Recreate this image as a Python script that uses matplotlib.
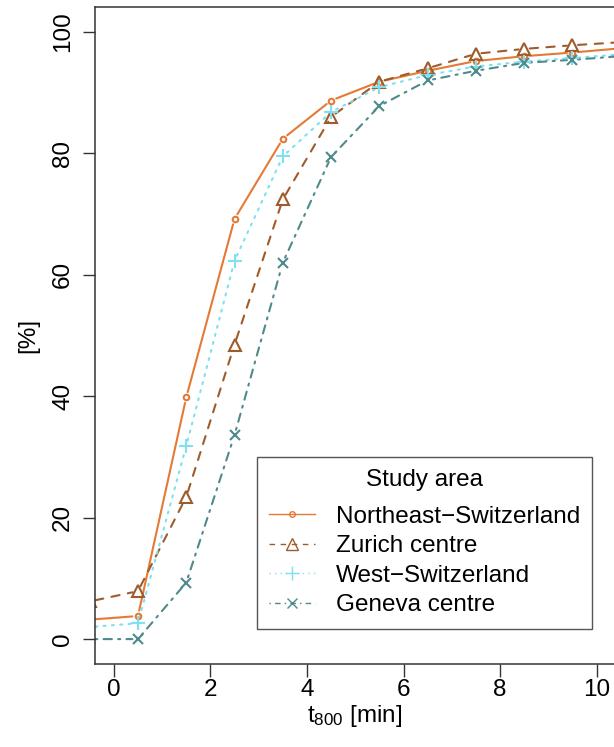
import matplotlib
matplotlib.use('Agg')
import matplotlib.pyplot as plt
from matplotlib.lines import Line2D
from matplotlib.patches import FancyArrowPatch

# t800 bins (bin centres, minutes) and share of population reached [%]
t800 = [-0.5, 0.5, 1.5, 2.5, 3.5, 4.5, 5.5, 6.5, 7.5, 8.5, 9.5, 10.5]
northeast = [3.2, 3.8, 39.8, 69.2, 82.4, 88.7, 91.8, 93.6, 95.2, 96.0, 96.6, 97.3]
zurich = [6.2, 7.9, 23.4, 48.5, 72.4, 86.0, 91.8, 94.0, 96.4, 97.2, 97.8, 98.3]
west = [2.0, 2.6, 31.8, 62.3, 79.5, 86.8, 90.9, 92.9, 94.3, 95.1, 95.7, 96.3]
geneva = [0.0, 0.0, 9.3, 33.6, 62.0, 79.4, 87.8, 92.0, 93.6, 94.9, 95.4, 96.0]

labels = ['Northeast\u2212Switzerland', 'Zurich centre', 'West\u2212Switzerland', 'Geneva centre']
series = [northeast, zurich, west, geneva]
colors = ['#E47A35', '#9E5C2C', '#7EE0F0', '#4F8A8C']
styles = ['-', (0, (4, 4)), (0, (1, 3)), (0, (1, 3, 4, 3))]
markers = ['o', '^', '+', 'x']
msizes = [4, 8, 10, 7]

plt.rcParams['font.family'] = ['Liberation Sans', 'DejaVu Sans']
plt.rcParams['mathtext.default'] = 'regular'
fs = 17.5

fig = plt.figure(figsize=(6.14, 7.47), dpi=100)
ax = fig.add_axes([95 / 614, 1 - 664 / 747, 1 - 95 / 614, (664 - 7) / 747])

for ys, c, ls, m, ms in zip(series, colors, styles, markers, msizes):
    # R type="b": segments with small gaps around the points
    for i in range(len(t800) - 1):
        seg = FancyArrowPatch((t800[i], ys[i]), (t800[i + 1], ys[i + 1]),
                              arrowstyle='-', shrinkA=4, shrinkB=4,
                              color=c, linestyle=ls, linewidth=1.5)
        ax.add_patch(seg)
    ax.plot(t800, ys, linestyle='none', marker=m, markersize=ms,
            markerfacecolor='none', markeredgecolor=c, markeredgewidth=1.5)

ax.set_xlim(-0.39, 10.36)
ax.set_ylim(-4.1, 104.1)
ax.set_xticks([0, 2, 4, 6, 8, 10])
ax.set_yticks([0, 20, 40, 60, 80, 100])
ax.tick_params(axis='both', labelsize=fs, length=9, width=1.0, color='#333333')
ax.tick_params(axis='x', pad=2)
ax.tick_params(axis='y', pad=6)
for lab in ax.get_yticklabels():
    lab.set_rotation(90)
    lab.set_va('center')
for s in ['left', 'bottom', 'top']:
    ax.spines[s].set_color('#333333')
    ax.spines[s].set_linewidth(1.1)
ax.spines['right'].set_visible(False)

ax.set_xlabel(r'$t_{800}$ [min]', fontsize=fs, labelpad=1)
ax.set_ylabel('[%]', fontsize=fs, labelpad=9)

handles = [Line2D([], [], color=c, linestyle=ls, linewidth=1.0, marker=m,
                  markersize=ms, markerfacecolor='none', markeredgecolor=c,
                  markeredgewidth=1.0)
           for c, ls, m, ms in zip(colors, styles, markers, msizes)]
leg = ax.legend(handles, labels, title='Study area', fontsize=fs,
                title_fontsize=fs, loc='upper left',
                bbox_to_anchor=(257 / 614, 1 - 457 / 747),
                bbox_transform=fig.transFigure, borderaxespad=0,
                fancybox=False, framealpha=1, edgecolor='#555555',
                handlelength=1.9, handletextpad=0.85, labelspacing=0.31,
                borderpad=0.5)
leg.get_frame().set_linewidth(1.0)
# extra room between the title and the entries
leg._legend_box.sep = 10.5

fig.savefig('out.png', dpi=100)
